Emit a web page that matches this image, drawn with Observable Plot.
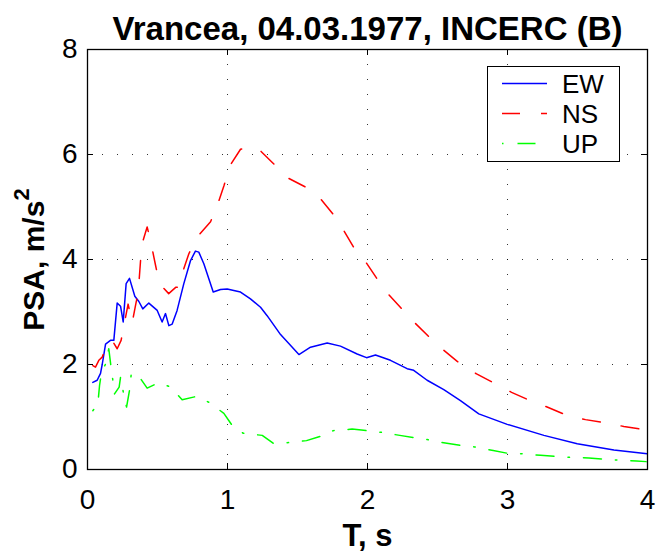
<!DOCTYPE html>
<html><head><meta charset="utf-8">
<script src="https://cdn.jsdelivr.net/npm/d3@7"></script>
<script src="https://cdn.jsdelivr.net/npm/@observablehq/plot@0.6"></script>
<style>
body{margin:0;background:#fff;}
#wrap{position:relative;width:656px;height:558px;background:#fff;}
#legend{position:absolute;left:487px;top:66px;}
</style></head><body><div id="wrap"></div>
<script>
const title = "Vrancea, 04.03.1977, INCERC (B)";
const xLabel = "T, s";
const yLabel = "PSA, m/s";
const yLabelSup = "2";
const xTicks = [0, 1, 2, 3, 4];
const yTicks = [0, 2, 4, 6, 8];
const gridX = [1, 2, 3];
const gridY = [2, 4, 6];
const seriesNames = ["EW", "NS", "UP"];

const ewT = [0.038,0.069,0.093,0.105,0.129,0.164,0.188,0.212,0.236,0.255,0.276,0.30,0.338,0.367,0.395,0.438,0.498,0.533,0.557,0.581,0.605,0.64,0.688,0.736,0.771,0.795,0.831,0.898,0.95,0.998,1.045,1.093,1.164,1.236,1.283,1.379,1.51,1.593,1.712,1.807,1.926,1.993,2.057,2.164,2.283,2.33,2.426,2.545,2.664,2.795,2.998,3.26,3.498,3.76,3.998];
const ewPSA = [1.66,1.70,1.83,2.00,2.39,2.46,2.46,3.17,3.11,2.81,3.54,3.64,3.30,3.20,3.06,3.17,3.03,2.81,2.97,2.74,2.77,3.03,3.54,3.98,4.16,4.14,3.92,3.38,3.43,3.44,3.41,3.38,3.25,3.09,2.93,2.57,2.19,2.33,2.41,2.35,2.20,2.13,2.18,2.08,1.92,1.89,1.70,1.52,1.31,1.06,0.86,0.65,0.49,0.37,0.30];

const nsT = [0.038,0.057,0.081,0.105,0.14,0.176,0.212,0.24,0.29,0.319,0.35,0.367,0.379,0.39,0.426,0.45,0.486,0.514,0.58,0.63,0.655,0.676,0.724,0.783,0.879,0.93,0.974,1.018,1.093,1.16,1.224,1.331,1.426,1.557,1.66,1.755,1.831,1.902,1.993,2.069,2.152,2.248,2.343,2.45,2.545,2.664,2.779,2.909,3.029,3.164,3.283,3.426,3.557,3.70,3.831,3.998];
const nsPSA = [1.98,1.95,2.08,2.14,2.39,2.46,2.30,2.46,3.15,2.79,3.22,3.54,3.98,4.30,4.62,4.36,3.89,3.54,3.35,3.47,3.47,3.73,4.11,4.43,4.72,5.05,5.40,5.79,6.10,6.15,6.10,5.82,5.56,5.38,5.17,4.86,4.55,4.23,3.93,3.63,3.33,3.05,2.78,2.50,2.27,2.01,1.82,1.64,1.47,1.31,1.19,1.03,0.95,0.89,0.82,0.75];

const upT = [0.038,0.074,0.086,0.10,0.129,0.152,0.164,0.181,0.193,0.226,0.236,0.248,0.264,0.279,0.302,0.312,0.343,0.379,0.426,0.505,0.588,0.676,0.776,0.867,0.974,1.033,1.112,1.248,1.326,1.426,1.564,1.66,1.755,1.89,1.993,2.093,2.231,2.326,2.426,2.52,2.664,2.764,2.898,2.998,3.105,3.236,3.343,3.45,3.581,3.68,3.783,3.921,3.99];
const upPSA = [1.12,1.25,1.60,1.85,2.01,2.30,2.04,1.70,1.44,1.57,1.76,1.60,1.33,1.19,1.54,1.81,1.71,1.73,1.55,1.65,1.58,1.33,1.39,1.28,1.07,0.84,0.69,0.65,0.50,0.51,0.55,0.63,0.74,0.77,0.74,0.71,0.65,0.61,0.57,0.52,0.46,0.43,0.36,0.31,0.30,0.27,0.25,0.23,0.22,0.20,0.18,0.16,0.15];

const colors = {EW: "#0000ff", NS: "#ff0000", UP: "#00ff00"};
const dashes = {EW: null, NS: "18,21", UP: "1.5,14,18,14"};

const toRows = (T, V) => T.map((t, i) => ({T: t, PSA: V[i]}));
const series = {EW: toRows(ewT, ewPSA), NS: toRows(nsT, nsPSA), UP: toRows(upT, upPSA)};

const W = 656, H = 558, mT = 49, mB = 89, mL = 87, mR = 9;
const fw = W - mL - mR, fh = H - mT - mB, tl = 6;
const font = "'Liberation Sans', Arial, Helvetica, sans-serif";

const chart = Plot.plot({
  width: W, height: H,
  marginTop: mT, marginBottom: mB, marginLeft: mL, marginRight: mR,
  style: {fontFamily: font, background: "#fff", color: "#000", overflow: "visible"},
  x: {domain: [0, 4]},
  y: {domain: [0, 8]},
  marks: [
    Plot.ruleX(gridX, {x: d => d, stroke: "#000", strokeOpacity: 0.8, strokeDasharray: "1,14"}),
    Plot.ruleY(gridY, {y: d => d, stroke: "#000", strokeOpacity: 0.8, strokeDasharray: "1,14"}),
    ...seriesNames.map(k => Plot.line(series[k], {x: "T", y: "PSA", stroke: colors[k], strokeWidth: 1.5, strokeDasharray: dashes[k]})),
    Plot.tickX(xTicks, {x: d => d, insetBottom: fh - tl, stroke: "#000"}),
    Plot.tickX(xTicks, {x: d => d, insetTop: fh - tl, stroke: "#000"}),
    Plot.tickY(yTicks, {y: d => d, insetRight: fw - tl, stroke: "#000"}),
    Plot.tickY(yTicks, {y: d => d, insetLeft: fw - tl, stroke: "#000"}),
    Plot.frame({stroke: "#000", strokeWidth: 1.3}),
    Plot.axisX(xTicks, {tickSize: 0, tickPadding: 20, fontSize: 28, tickFormat: d3.format("d"), label: null}),
    Plot.axisY(yTicks, {tickSize: 0, tickPadding: 10, fontSize: 28, tickFormat: d3.format("d"), label: null}),
    Plot.text([title], {frameAnchor: "top", lineAnchor: "bottom", textAnchor: "middle", dy: -10, fontSize: 33, fontWeight: "bold"}),
    Plot.text([xLabel], {frameAnchor: "bottom", lineAnchor: "bottom", textAnchor: "middle", dy: 76, fontSize: 31, fontWeight: "bold"}),
    Plot.text([yLabel], {frameAnchor: "left", lineAnchor: "bottom", textAnchor: "middle", rotate: -90, dx: -44, fontSize: 30, fontWeight: "bold"})
  ]
});
// superscript on the y label
d3.select(chart).selectAll("text").filter(function() { return this.textContent === yLabel; })
  .each(function() {
    const t = d3.select(this);
    t.text(null);
    t.append("tspan").text(yLabel);
    t.append("tspan").attr("dy", -15).attr("font-size", 22).text(yLabelSup);
  });
const wrap = document.getElementById("wrap");
wrap.appendChild(chart);

// legend
const lg = d3.create("svg").attr("id", "legend").attr("width", 133).attr("height", 96)
  .style("font-family", font);
lg.append("rect").attr("x", 0.5).attr("y", 0.5).attr("width", 132).attr("height", 95)
  .attr("fill", "#fff").attr("stroke", "#000").attr("stroke-width", 1);
seriesNames.forEach((k, i) => {
  const y = 17.5 + i * 30;
  lg.append("line").attr("x1", 15).attr("x2", 60).attr("y1", y).attr("y2", y)
    .attr("stroke", colors[k]).attr("stroke-width", 1.5)
    .attr("stroke-dasharray", dashes[k]);
  lg.append("text").attr("x", 75).attr("y", y + 9.5).attr("font-size", 26).text(k);
});
wrap.appendChild(lg.node());
</script></body></html>
